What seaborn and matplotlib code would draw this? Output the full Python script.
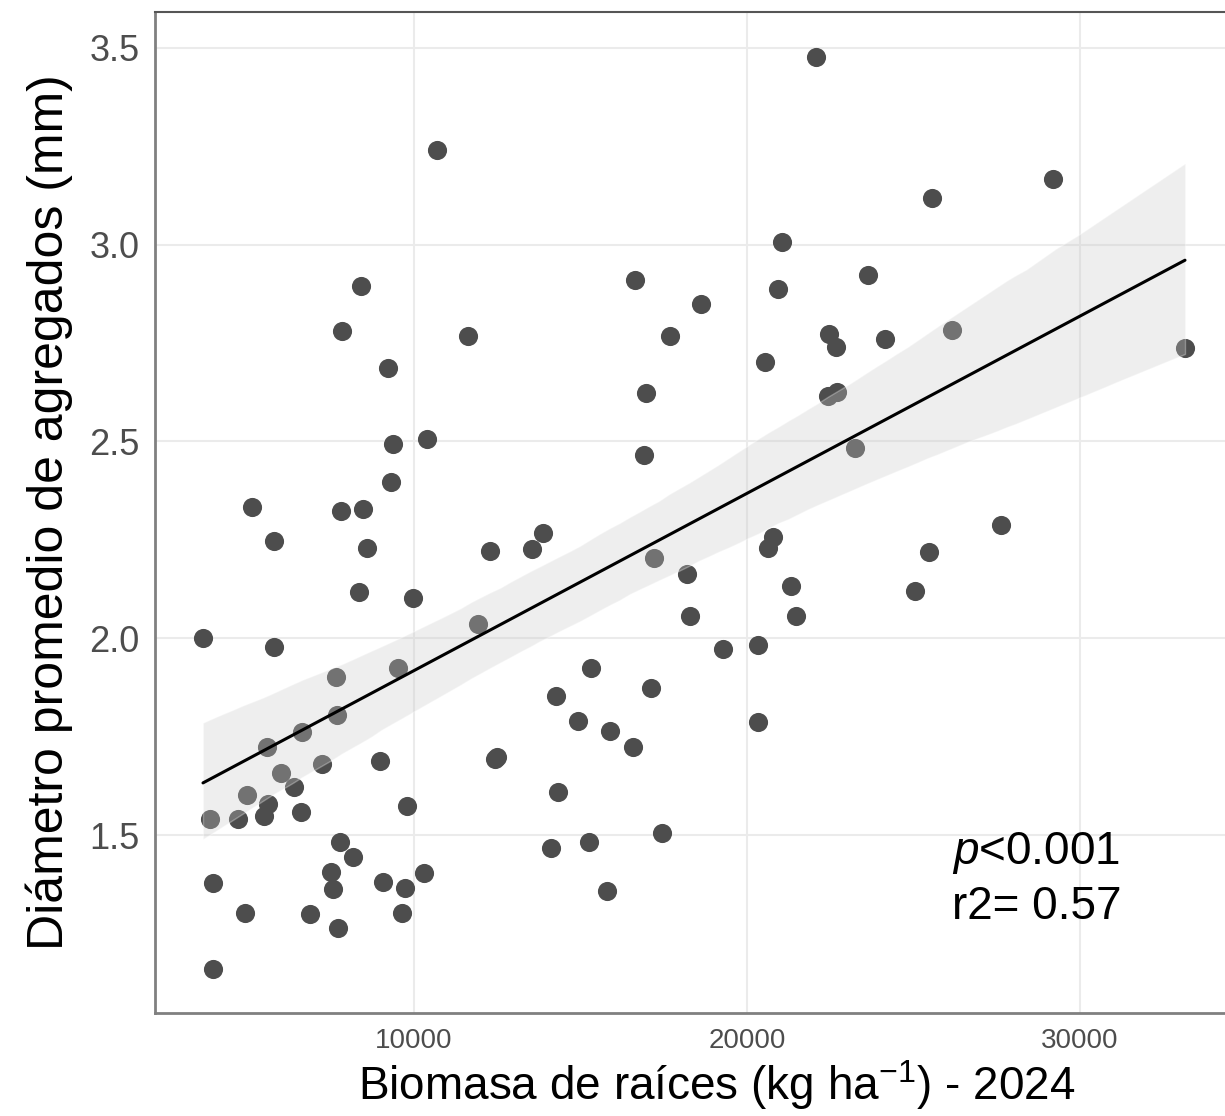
import numpy as np
import pandas as pd
import seaborn as sns
import matplotlib.pyplot as plt
from matplotlib.ticker import FormatStrFormatter
from matplotlib.collections import PolyCollection

# biomasa de raices (kg/ha) y diametro promedio de agregados (mm)
biomasa = [3664, 3874, 3964, 3964, 4715, 4925, 4985, 5135, 5495, 5586,
           5616, 5796, 5796, 6006, 6396, 6607, 6637, 6877, 7237, 7508,
           7568, 7658, 7688, 7718, 7778, 7808, 7838, 8168, 8348, 8408,
           8468, 8589, 8979, 9069, 9219, 9309, 9369, 9520, 9640, 9730,
           9790, 9970, 10300, 10390, 10691, 11622, 11922, 12282, 12492, 12432,
           13544, 13874, 14114, 14264, 14324, 14925, 15255, 15315, 15796, 15886,
           16577, 16637, 16907, 16967, 17117, 17207, 17447, 17688, 18198, 18288,
           18619, 19279, 20330, 20330, 20541, 20631, 20781, 20931, 21051, 21321,
           21471, 22072, 22432, 22462, 22673, 22703, 23243, 23634, 24144, 25045,
           25465, 25556, 26156, 27628, 29189, 33153]
diametro = [2.00, 1.541, 1.378, 1.160, 1.541, 1.302, 1.602, 2.334, 1.549, 1.724,
            1.579, 2.247, 1.978, 1.658, 1.622, 1.559, 1.762, 1.300, 1.681, 1.406,
            1.363, 1.902, 1.805, 1.264, 1.482, 2.324, 2.781, 1.444, 2.118, 2.895,
            2.329, 2.229, 1.688, 1.381, 2.687, 2.397, 2.494, 1.925, 1.302, 1.366,
            1.574, 2.102, 1.404, 2.506, 3.241, 2.768, 2.036, 2.222, 1.698, 1.693,
            2.227, 2.268, 1.467, 1.853, 1.609, 1.790, 1.482, 1.925, 1.358, 1.764,
            1.724, 2.910, 2.466, 2.623, 1.874, 2.204, 1.505, 2.768, 2.163, 2.057,
            2.850, 1.973, 1.983, 1.787, 2.702, 2.229, 2.257, 2.888, 3.007, 2.133,
            2.057, 3.477, 2.616, 2.773, 2.740, 2.626, 2.484, 2.923, 2.761, 2.120,
            2.219, 3.119, 2.783, 2.288, 3.167, 2.738]

df = pd.DataFrame({'biomasa': biomasa, 'diametro': diametro})

sns.set_style('white')
plt.rcParams['font.family'] = ['Liberation Sans', 'DejaVu Sans']
plt.rcParams['mathtext.fontset'] = 'custom'
plt.rcParams['mathtext.rm'] = 'Liberation Sans'
plt.rcParams['mathtext.it'] = 'Liberation Sans:italic'

fig = plt.figure(figsize=(12.25, 11.16), dpi=100)
ax = fig.add_axes([0.1265, 0.0923, 0.8735, 0.8970])

sns.regplot(x='biomasa', y='diametro', data=df, ax=ax, ci=95, seed=3,
            scatter_kws={'color': '#4d4d4d', 's': 190, 'linewidths': 0, 'alpha': 1},
            line_kws={'color': 'black', 'lw': 2.2})

# banda de confianza estilo ggplot
for c in ax.collections:
    if isinstance(c, PolyCollection):
        c.set_facecolor('#c8c8c8')
        c.set_alpha(0.3)

ax.set_xlim(2222, 34354)
ax.set_ylim(1.048, 3.591)
ax.set_xticks([10000, 20000, 30000])
ax.set_yticks([1.5, 2.0, 2.5, 3.0, 3.5])
ax.yaxis.set_major_formatter(FormatStrFormatter('%.1f'))

ax.grid(True, color='#ebebeb', lw=1.5)
ax.set_axisbelow(True)
for side in ['left', 'bottom']:
    ax.spines[side].set_color('#808080')
    ax.spines[side].set_linewidth(2)
ax.spines['top'].set_color('#555555')
ax.spines['top'].set_linewidth(1.5)
ax.spines['right'].set_visible(False)

ax.tick_params(axis='both', direction='out', length=5, width=1.5, color='#333333',
               labelcolor='#4d4d4d')
ax.tick_params(axis='y', labelsize=26, pad=6)
ax.tick_params(axis='x', labelsize=20, pad=6)

ax.set_xlabel('Biomasa de raíces (kg ha$^{\\mathregular{-1}}$) - 2024', fontsize=33,
              color='black', x=0.525, labelpad=3)
ax.set_ylabel('Diámetro promedio de agregados (mm)', fontsize=36, color='black',
              labelpad=12)

ax.text(0.745, 0.149, '$p$<0.001', transform=ax.transAxes, fontsize=33, color='black')
ax.text(0.745, 0.094, 'r2= 0.57', transform=ax.transAxes, fontsize=33, color='black')

plt.savefig('out.png', dpi=100)
